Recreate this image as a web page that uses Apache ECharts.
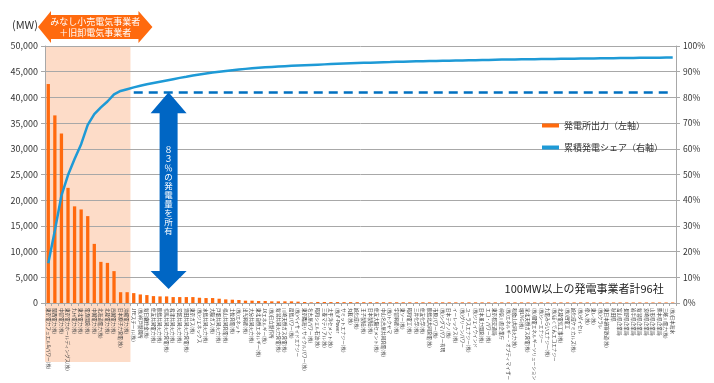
<!DOCTYPE html>
<html><head><meta charset="utf-8">
<script src="https://cdn.jsdelivr.net/npm/echarts@6/dist/echarts.min.js"></script>
<style>html,body{margin:0;padding:0;background:#fff}#c{width:714px;height:383px}</style>
</head><body><div id="c"></div>
<script>
const companies = [
'東京電力フュエル&パワー(株)','関西電力(株)','中部電力(株)','東京電力ホールディングス(株)','九州電力(株)','東北電力(株)','電源開発(株)','中国電力(株)','北海道電力(株)','北陸電力(株)',
'四国電力(株)','日本原子力発電(株)','沖縄電力(株)','JFEスチール(株)','(株)神戸製鋼所','新日鐵住金(株)','住友共同電力(株)','鹿島共同火力(株)','相馬共同火力発電(株)','君津共同火力(株)',
'常磐共同火力(株)','酒田共同火力発電(株)','東京ガス(株)','(株)ジェネックス','水島共同火力(株)','大阪ガス(株)','戸畑共同火力(株)','福山共同発電(株)','土佐発電(株)','(株)エネット',
'出光興産(株)','大分共同火力(株)','東北自然エネルギー(株)','JXエネルギー(株)','(株)日立製作所','新潟共同火力発電(株)','川崎天然ガス発電(株)','扇島パワー(株)','(株)ベイサイドエナジー','東京臨海リサイクルパワー(株)',
'名古屋パワー(株)','昭和シェル石油(株)','三菱マテリアル(株)','太平洋セメント(株)','(株)F-Power','サミットエナジー(株)','丸紅(株)','旭化成(株)','王子製紙(株)','日本製紙(株)',
'住友大阪セメント(株)','中山名古屋共同発電(株)','(株)トクヤマ','宇部興産(株)','東ソー(株)','昭和電工(株)','三井化学(株)','住友化学(株)','鹿島北共同発電(株)','市原パワー(株)',
'(株)シグマパワー有明','日本テクノ(株)','イーレックス(株)','(株)グリーンパワー','ユーラスエナジー(株)','(株)ジェイウインド','日本風力開発(株)','エコ・パワー(株)','東京都交通局','神奈川県企業庁',
'(株)エネルギー・オプティマイザー','和歌山共同火力(株)','堺LNG(株)','泉北天然ガス発電(株)','(株)関電エネルギーソリューション','(株)シーエナジー','九電みらいエナジー(株)','(株)ほくでんエコエナジー','北陸電気工事(株)','(株)四電工',
'旭化成ケミカルズ(株)','(株)ダイセル','帝人(株)','東レ(株)','(株)クラレ','東日本旅客鉄道(株)','秋田県','富山県企業局','長野県企業局','岩手県企業局',
'新潟県企業局','宮崎県企業局','山形県企業局','熊本県企業局','三峰川電力(株)','(株)日本海水'
];
const capacityMW = [
42600,36500,33000,22400,18800,18200,16900,11500,8000,7800,6200,2100,2100,
1920,1660,1540,1340,1280,1280,1150,1150,1150,1150,1020,960,960,830,700,640,580,450,450,380,380,320,320,320,320,260,190,130,
200,190,180,180,170,170,160,160,150,150,150,
140,140,140,135,135,135,130,130,130,130,125,125,125,125,120,120,120,120,120,118,
118,115,115,115,115,112,112,110,110,110,110,108,108,106,105,105,104,103,102,102,101,101,100,100
];
const cumulativeSharePct = [
15.5,28.2,41.8,49.8,56.0,61.8,69.3,73.5,76.1,78.4,81.2,82.5,83.2,
83.9,84.5,85.1,85.6,86.1,86.6,87.1,87.6,88.0,88.5,88.9,
89.3,89.7,90.0,90.3,90.6,90.85,91.1,91.3,91.5,91.7,91.85,92.0,92.15,92.3,92.45,92.55,92.65,
92.75,92.85,92.95,93.05,93.15,93.25,93.35,93.45,93.5,93.6,93.7,93.75,93.85,93.9,94.0,94.05,94.1,94.15,94.2,94.25,94.3,94.35,94.4,94.45,94.5,94.55,94.6,94.65,94.7,
94.72,94.75,94.8,94.83,94.86,94.9,94.93,94.96,95.0,95.03,95.06,95.1,95.13,95.16,95.2,95.23,95.26,95.3,95.33,95.36,95.39,95.42,95.44,95.46,95.48,95.5
];
const highlightedCount = 13;   // みなし小売 + 旧卸
const ownedSharePct = 82;      // dashed reference line
const leftMax = 50000, leftStep = 5000;
const rightMax = 100, rightStep = 10;
const unitLabel = '(MW)';
const barName = '発電所出力（左軸）';
const lineName = '累積発電シェア（右軸）';
const bannerLines = ['みなし小売電気事業者','＋旧卸電気事業者'];
const arrowText = '８３％の発電量を所有';
const noteText = '100MW以上の発電事業者計96社';

(function(){
const FONT = '"Noto Sans CJK JP", "Noto Sans", sans-serif';
const ORANGE = '#FF6A0E', BLUE = '#1E9AD6', DBLUE = '#0066C4', GRID = '#A8A8A8';

const chart = echarts.init(document.getElementById('c'), null, {renderer:'canvas'});
chart.setOption({
  animation:false,
  textStyle:{fontFamily:FONT},
  grid:{left:45, right:38, top:46, bottom:80},
  legend:{
    orient:'vertical', left:537, top:116, itemGap:13, itemWidth:17, itemHeight:4,
    textStyle:{fontFamily:FONT, fontSize:9, color:'#333'},
    data:[{name:barName, icon:'rect'},{name:lineName, icon:'rect', itemStyle:{color:BLUE}}]
  },
  xAxis:{
    type:'category', data:companies, boundaryGap:true,
    axisLine:{lineStyle:{color:GRID}},
    axisTick:{show:true, length:3, lineStyle:{color:GRID}},
    axisLabel:{interval:0, rotate:-90, fontSize:4.6, color:'#444', margin:5, fontFamily:FONT}
  },
  yAxis:[
    {type:'value', min:0, max:leftMax, interval:leftStep,
     axisLine:{show:true, lineStyle:{color:GRID}},
     axisTick:{show:true, length:4, lineStyle:{color:GRID}},
     axisLabel:{fontSize:9, color:'#333', margin:7, formatter:v=>v.toLocaleString('en-US'), fontFamily:FONT},
     splitLine:{lineStyle:{color:GRID, width:1}}},
    {type:'value', min:0, max:rightMax, interval:rightStep, position:'right',
     axisLine:{show:true, lineStyle:{color:GRID}},
     axisTick:{show:true, length:4, lineStyle:{color:GRID}},
     axisLabel:{fontSize:8.5, color:'#333', margin:7, formatter:'{value}%', fontFamily:FONT},
     splitLine:{show:false}}
  ],
  series:[
    {name:barName, type:'bar', data:capacityMW, barWidth:3.3, itemStyle:{color:ORANGE}, z:2},
    {name:lineName, type:'line', yAxisIndex:1, data:cumulativeSharePct, showSymbol:false, symbol:'none',
     lineStyle:{color:BLUE, width:2.5}, itemStyle:{color:BLUE}, z:3,
     markLine:{silent:true, symbol:'none', label:{show:false},
       lineStyle:{color:'#0070C0', width:2.5, type:[9,6]},
       data:[[{coord:[highlightedCount, ownedSharePct]},{coord:[companies.length-1, ownedSharePct]}]]}}
  ]
});

const cx = i => chart.convertToPixel({xAxisIndex:0}, i);
const bw = cx(1) - cx(0);
const bound = i => cx(i) - bw/2;
const yL = v => chart.convertToPixel({yAxisIndex:0}, v);
const yR = v => chart.convertToPixel({yAxisIndex:1}, v);
const L = bound(0), R = bound(highlightedCount);
const gTop = yL(leftMax), base = yL(0);

const ax = cx(18) + 2;
const aTop = yR(ownedSharePct), aBot = base - 14;
const hw = 18, bwid = 9, hl = 21;
const arrowPts = [
  [ax, aTop],[ax+hw, aTop+hl],[ax+bwid, aTop+hl],[ax+bwid, aBot-hl+3],[ax+hw, aBot-hl+3],
  [ax, aBot],[ax-hw, aBot-hl+3],[ax-bwid, aBot-hl+3],[ax-bwid, aTop+hl],[ax-hw, aTop+hl]
];
const bTip = 27, bHT = 11, bHB = 43, bBT = 15, bBB = 39;
const bl = L - 7, blb = L + 6, brb = R + 8, br = R + 22;
const bannerPts = [[bl,bTip],[blb,bHT],[blb,bBT],[brb,bBT],[brb,bHT],[br,bTip],[brb,bHB],[brb,bBB],[blb,bBB],[blb,bHB]];

chart.setOption({graphic:[
  {type:'rect', z:-10, silent:true, shape:{x:L, y:gTop, width:R-L, height:362-gTop}, style:{fill:'#FDDCC8'}},
  {type:'text', z:101, silent:true, x:L-7, y:gTop-21,
   style:{text:unitLabel, fill:'#333', fontSize:11, align:'right', verticalAlign:'middle', fontFamily:FONT}},
  {type:'polygon', z:100, silent:true, shape:{points:bannerPts}, style:{fill:ORANGE}},
  {type:'text', z:101, silent:true, x:(bl+br)/2, y:bTip,
   style:{text:bannerLines.join('\n'), fill:'#fff', fontSize:9, lineHeight:11, align:'center', verticalAlign:'middle', fontFamily:FONT}},
  {type:'polygon', z:100, silent:true, shape:{points:arrowPts}, style:{fill:DBLUE}},
  {type:'text', z:101, silent:true, x:ax, y:(aTop+aBot)/2,
   style:{text:arrowText.split('').join('\n'), fill:'#fff', fontSize:8.5, lineHeight:9, align:'center', verticalAlign:'middle', fontFamily:FONT}},
  {type:'text', z:101, silent:true, x:cx(companies.length-1)-9, y:yL(2800),
   style:{text:noteText, fill:'#222', fontSize:11, align:'right', verticalAlign:'middle', fontFamily:FONT}}
]});
})();
</script>
</body></html>
